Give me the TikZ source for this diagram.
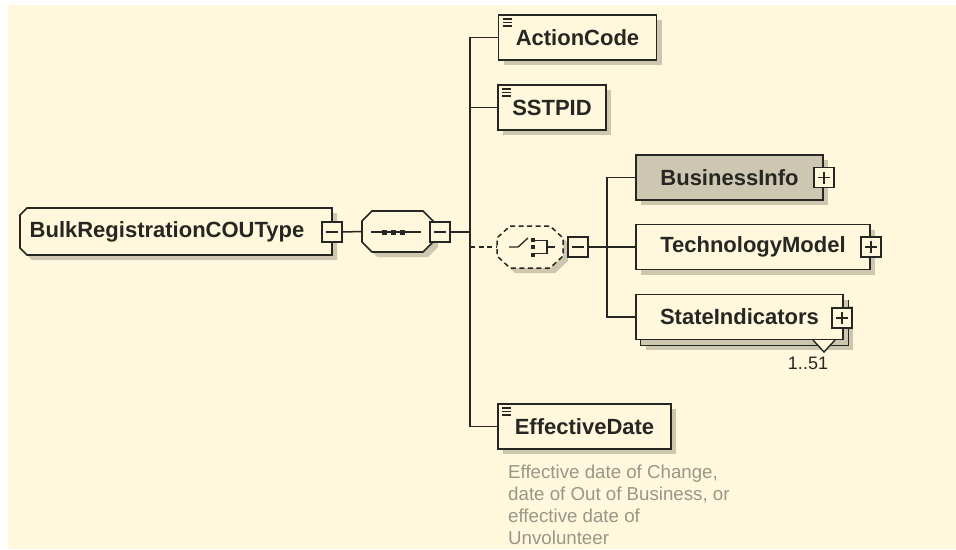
\documentclass[tikz,border=0pt]{standalone}
\usepackage{fontspec}
\setmainfont{Liberation Sans}
\usetikzlibrary{shadows}

\definecolor{fond}{RGB}{255,248,220}
\definecolor{ombre}{RGB}{204,199,174}
\definecolor{grisbox}{RGB}{205,199,178}
\definecolor{encre}{RGB}{38,38,34}
\definecolor{grisnote}{RGB}{152,150,136}

\tikzset{
    ombrage/.style={drop shadow={shadow xshift=5pt, shadow yshift=-5pt, fill=ombre, opacity=1}},
    forme/.style={draw=encre, line width=1.7pt, fill=fond, ombrage},
    lien/.style={draw=encre, line width=1.5pt},
    titre/.style={inner sep=0pt, text=encre, font=\fontsize{22}{26}\selectfont\bfseries},
    elem/.style={forme, titre, minimum height=45pt},
    simple/.style={elem, path picture={
        \foreach \dy in {4,7.5,11}
            \draw[encre, line width=1.1pt] ([xshift=4pt, yshift=-\dy pt]path picture bounding box.north west) -- ++(9,0);}},
    vide/.style={inner sep=0pt},
    bouton/.style={draw=encre, line width=1.6pt, fill=fond, minimum size=20pt, inner sep=0pt},
    moins/.style={bouton, path picture={
        \draw[encre, line width=1.3pt] ([xshift=4pt]path picture bounding box.west) -- ([xshift=-4pt]path picture bounding box.east);}},
    plus/.style={bouton, path picture={
        \draw[encre, line width=1.3pt] ([xshift=4pt]path picture bounding box.west) -- ([xshift=-4pt]path picture bounding box.east);
        \draw[encre, line width=1.3pt] ([yshift=4pt]path picture bounding box.south) -- ([yshift=-4pt]path picture bounding box.north);}},
    note/.style={inner sep=0pt, align=left, text=grisnote, font=\fontsize{18.7}{21.8}\selectfont}
}

\begin{document}
\begin{tikzpicture}[x=1pt,y=-1pt]
    % Le fond
    \useasboundingbox (0,0) rectangle (956,549);
    \fill[white] (0,0) rectangle (956,549);
    \fill[fond] (8,5) rectangle (956,549);

    % Le type racine (coins coupes a gauche)
    \path[forme] (27,208) -- (332,208) -- (332,255) -- (27,255) -- (20,248) -- (20,215) -- cycle;
    \node[titre, minimum width=312pt, minimum height=47pt] (root) at (176,231.5) {\hspace*{-18pt}BulkRegistrationCOUType};
    \node[moins] (rootminus) at (332,232) {};

    % La sequence (octogone)
    \path[forme] (372,211) -- (423,211) -- (433,221) -- (433,242) -- (423,252) -- (372,252) -- (362,242) -- (362,221) -- cycle;
    \node[vide, minimum width=71pt, minimum height=41pt] (seq) at (397.5,231.5) {};
    \draw[encre, line width=1.3pt] (371,232) -- (421,232);
    \foreach \x in {384,393,402}
        \fill[encre] (\x-2.5,229.5) rectangle ++(5,5);
    \node[moins] (seqminus) at (440,232) {};

    % Les elements de la sequence
    \node[simple, minimum width=158pt] (action) at (577.5,37.5) {ActionCode};
    \node[simple, minimum width=108pt] (sstpid) at (552,107.5) {SSTPID};
    \node[simple, minimum width=173pt] (effdate) at (584.5,426.5) {EffectiveDate};
    \node[note, anchor=north west] (effnote) at (508,465) {Effective date of Change,\\date of Out of Business, or\\effective date of\\Unvolunteer};

    % Le choix (octogone en pointilles)
    \path[forme, dash pattern=on 5pt off 3.5pt, line width=1.5pt] (510,226) -- (550,226) -- (563,238) -- (563,256) -- (550,268) -- (510,268) -- (497,256) -- (497,238) -- cycle;
    \node[vide, minimum width=66pt, minimum height=42pt] (choice) at (530,247) {};
    \draw[encre, line width=1.3pt] (509,247) -- (518,247) -- (528,238);
    \foreach \y in {239.5,247,254.5}
        \fill[encre] (531,\y-2) rectangle ++(4,4);
    \draw[encre, line width=1.3pt] (535,240.5) -- (547,240.5) -- (547,253.5) -- (535,253.5);
    \draw[encre, line width=1.3pt] (547,247) -- (555,247);
    \node[moins] (choiceminus) at (578,247) {};

    % Les elements du choix
    \node[elem, fill=grisbox, minimum width=187pt] (bizinfo) at (729.5,177.5) {BusinessInfo};
    \node[plus] (bizplus) at (bizinfo.east) {};
    \node[elem, minimum width=234pt] (techmodel) at (753,247) {TechnologyModel};
    \node[plus] (techplus) at (techmodel.east) {};
    \path[forme] (641,301) rectangle (848,345);
    \node[elem, drop shadow={opacity=0}, minimum width=207pt] (stateind) at (739.5,317) {StateIndicators};
    \node[plus] (stateplus) at (842,318) {};
    \draw[encre, line width=1.4pt, fill=fond] (813,340) -- (824,352) -- (835,340);
    \node[inner sep=0pt, text=encre, font=\fontsize{18}{20}\selectfont] (occurs) at (808,363) {1..51};

    % Les liens
    \coordinate (bus) at (470,232);
    \coordinate (bus2) at (607,247);
    \draw[lien] (rootminus.east) -- (seq.west);
    \draw[lien] (seqminus.east) -- (bus);
    \draw[lien] (action.west) -| (bus);
    \draw[lien] (sstpid.west) -| (bus);
    \draw[lien] (effdate.west) -| (bus);
    \draw[lien, dash pattern=on 5pt off 3.5pt] (bus |- choice.west) -- (choice.west);
    \draw[lien] (choiceminus.east) -- (bus2);
    \draw[lien] (bizinfo.west) -| (bus2);
    \draw[lien] (stateind.west) -| (bus2);
    \draw[lien] (techmodel.west) -- (bus2);
\end{tikzpicture}
\end{document}
